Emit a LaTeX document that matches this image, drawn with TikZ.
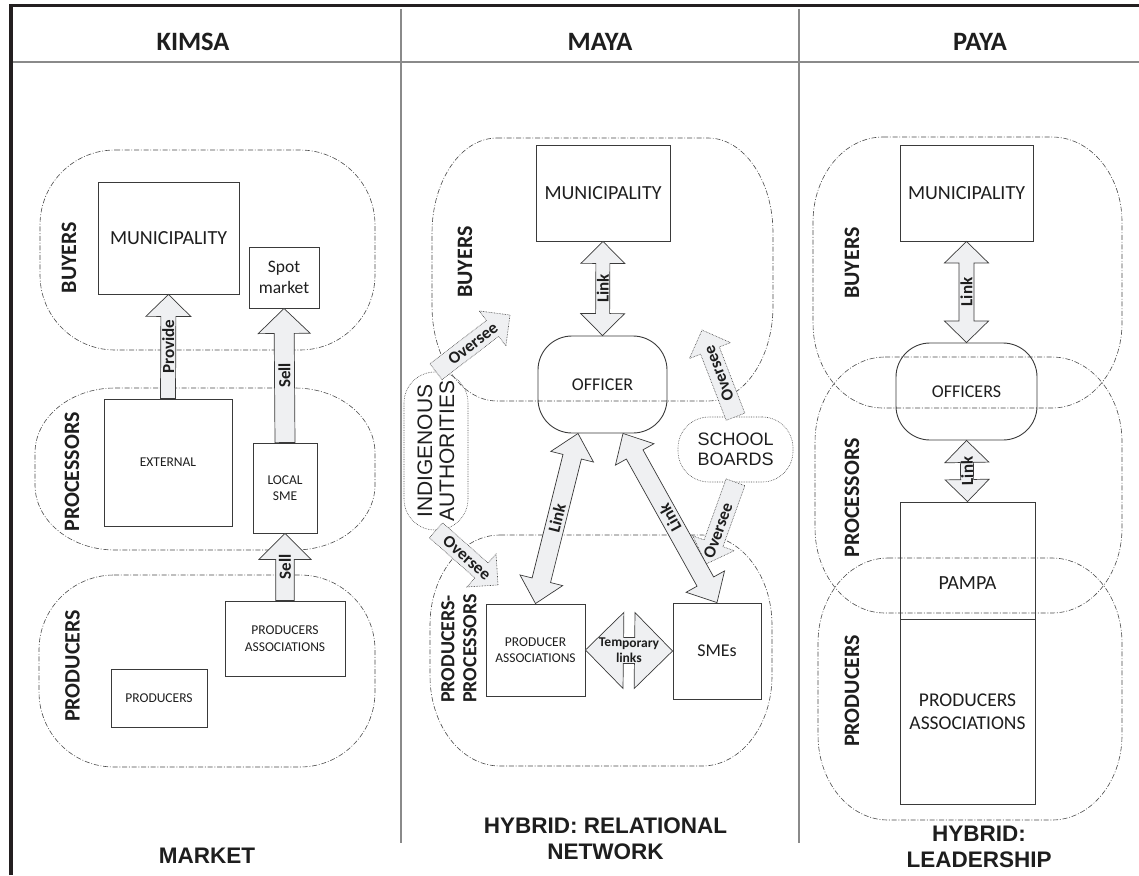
\documentclass[tikz,border=0pt]{standalone}
\usepackage{fontspec}
\setmainfont{Carlito}
\newfontfamily\arialf{Liberation Sans}
\usetikzlibrary{calc}
\definecolor{ink}{HTML}{1E1E1E}
\definecolor{boxc}{HTML}{3A3A3A}
\definecolor{blobc}{HTML}{4A4A4A}
\definecolor{afill}{HTML}{EFF0F2}
\definecolor{sepc}{HTML}{8A8A8A}
\definecolor{framec}{HTML}{231F20}
% single block arrow: [label opts]{style}{from}{to}{half shaft}{half head}{head length}{label}
\newcommand{\sarrow}[8][]{%
  \draw[#2] let \p1=(#3), \p2=(#4), \n1={atan2(\y2-\y1,\x2-\x1)}, \n2={veclen(\x2-\x1,\y2-\y1)} in
  {[shift={(\p1)}, rotate=\n1]
   (0,#5) -- ({\n2-#7},#5) -- ({\n2-#7},#6) -- (\n2,0) -- ({\n2-#7},-#6) -- ({\n2-#7},-#5) -- (0,-#5) -- cycle
   ({\n2/2},0) node[lbl, transform shape, #1] {#8}};
}
% double block arrow
\newcommand{\darrow}[8][]{%
  \draw[#2] let \p1=(#3), \p2=(#4), \n1={atan2(\y2-\y1,\x2-\x1)}, \n2={veclen(\x2-\x1,\y2-\y1)} in
  {[shift={(\p1)}, rotate=\n1]
   (0,0) -- (#7,#6) -- (#7,#5) -- ({\n2-#7},#5) -- ({\n2-#7},#6) -- (\n2,0) -- ({\n2-#7},-#6) -- ({\n2-#7},-#5) -- (#7,-#5) -- (#7,-#6) -- cycle
   ({\n2/2},0) node[lbl, transform shape, #1] {#8}};
}
% blob region: x1 y1 x2 y2 rx ry
\newcommand{\blobreg}[6]{%
  \draw[blob] ({#1+#5},#2) -- ({#3-#5},#2) arc[start angle=270,end angle=360,x radius=#5,y radius=#6]
   -- (#3,{#4-#6}) arc[start angle=0,end angle=90,x radius=#5,y radius=#6]
   -- ({#1+#5},#4) arc[start angle=90,end angle=180,x radius=#5,y radius=#6]
   -- (#1,{#2+#6}) arc[start angle=180,end angle=270,x radius=#5,y radius=#6] -- cycle;
}
\tikzset{
  box/.style={draw=boxc, line width=0.9pt, inner sep=0pt, align=center, text=ink},
  boxs/.style={box, font=\fontsize{13.5}{16.5}\selectfont},
  boxl/.style={box, font=\fontsize{20}{22}\selectfont},
  offc/.style={box, rounded corners=34pt, font=\fontsize{18}{20}\selectfont},
  blob/.style={draw=blobc, line width=0.6pt, dash pattern=on 5pt off 1.8pt on 0.9pt off 1.8pt},
  cloud/.style={draw=blobc, line width=0.6pt, dash pattern=on 0.7pt off 1pt, inner sep=0pt, align=center, text=ink, rounded corners=31pt},
  rowlbl/.style={rotate=90, font=\bfseries\fontsize{22}{22}\selectfont, text=ink, inner sep=0pt},
  headlbl/.style={font=\bfseries\fontsize{26.5}{28}\selectfont, text=ink, inner sep=0pt, anchor=base},
  foot/.style={font=\arialf\bfseries\fontsize{22.5}{26}\selectfont, align=center, text=ink, inner sep=0pt, anchor=base},
  barrow/.style={draw=boxc, fill=afill, line width=0.7pt, line join=miter},
  oarrow/.style={draw=blobc, fill=afill, line width=0.6pt, dash pattern=on 0.7pt off 0.9pt, line join=miter},
  lbl/.style={font=\bfseries\fontsize{17}{17}\selectfont, text=ink, inner sep=0pt, align=center},
}
\begin{document}
\begin{tikzpicture}[x=1pt,y=-1pt]
\useasboundingbox (0,0) rectangle (1139,875);
% frame
\draw[framec, line width=3.2pt, line join=miter] (11,875) -- (11,5.5) -- (1139,5.5);
\draw[sepc, line width=1.2pt] (13,62) -- (1139,62);
\draw[sepc, line width=1.5pt] (401,9) -- (401,843);
\draw[sepc, line width=1.5pt] (799,9) -- (799,843);
% headers
\node[headlbl] (hk) at (193,51) {KIMSA};
\node[headlbl] (hm) at (600,51) {MAYA};
\node[headlbl] (hp) at (980,51) {PAYA};
% footers (base = baseline of last line)
\node[foot] (fk) at (207,863) {MARKET};
\node[foot] (fm) at (605.5,859) {HYBRID: RELATIONAL\\NETWORK};
\node[foot] (fp) at (979,867) {HYBRID:\\LEADERSHIP};
% blobs
\blobreg{40}{150}{375}{350}{75}{75}
\blobreg{35}{388}{375}{550}{80}{65}
\blobreg{39}{575}{375}{767}{75}{75}
\blobreg{432}{138}{773}{401}{65}{95}
\blobreg{430}{535}{772}{766}{70}{90}
\blobreg{813}{137}{1122}{408}{70}{85}
\blobreg{815}{357}{1122}{613}{70}{85}
\blobreg{818}{558}{1122}{820}{70}{85}
% row labels
\node[rowlbl] (kb) at (69,257.5) {BUYERS};
\node[rowlbl] (kpr) at (72,472) {PROCESSORS};
\node[rowlbl] (kpd) at (72.5,666) {PRODUCERS};
\node[rowlbl] (mb) at (465,262) {BUYERS};
\node[rowlbl, font=\bfseries\fontsize{20}{22}\selectfont, align=left, anchor=west] (mpp) at (459,703) {PRODUCERS-\\PROCESSORS};
\node[rowlbl] (pb) at (852,263) {BUYERS};
\node[rowlbl] (ppr) at (852,498) {PROCESSORS};
\node[rowlbl] (ppd) at (852,691) {PRODUCERS};
% KIMSA boxes
\node[boxl, minimum width=141pt, minimum height=112pt] (kmuni) at (168.5,238) {MUNICIPALITY};
\node[box, font=\fontsize{17.5}{21}\selectfont, minimum width=70pt, minimum height=61pt] (kspot) at (284,277.5) {Spot\\market};
\node[boxs, minimum width=128pt, minimum height=127pt] (kext) at (168,462.5) {EXTERNAL};
\node[boxs, minimum width=64pt, minimum height=90pt] (ksme) at (285,488) {LOCAL\\SME};
\node[boxs, minimum width=120pt, minimum height=75pt] (kpa) at (285,638.5) {PRODUCERS\\ASSOCIATIONS};
\node[boxs, minimum width=96pt, minimum height=58pt] (kprod) at (159,698) {PRODUCERS};
% MAYA boxes
\node[boxl, minimum width=134pt, minimum height=96pt] (mmuni) at (603,193) {MUNICIPALITY};
\node[offc, minimum width=129pt, minimum height=97pt] (moff) at (602.5,384.5) {OFFICER};
\node[cloud, rotate=90, minimum width=158pt, minimum height=64pt, font=\arialf\fontsize{21}{22}\selectfont] (mind) at (436,451) {INDIGENOUS\\AUTHORITIES};
\node[cloud, minimum width=115pt, minimum height=65pt, font=\arialf\fontsize{18}{19.5}\selectfont] (msb) at (735.5,449.5) {SCHOOL\\BOARDS};
\node[boxs, font=\fontsize{13.5}{16}\selectfont, minimum width=99pt, minimum height=92pt] (mpa) at (535.5,650) {PRODUCER\\ASSOCIATIONS};
\node[box, font=\fontsize{18}{20}\selectfont, minimum width=88pt, minimum height=96pt] (msme) at (717,651) {SMEs};
% PAYA boxes
\node[boxl, minimum width=133pt, minimum height=96pt] (pmuni) at (966.5,193) {MUNICIPALITY};
\node[offc, minimum width=141pt, minimum height=97pt] (poff) at (966.5,391.5) {OFFICERS};
\node[box, minimum width=135pt, minimum height=117pt] (ppampa) at (967.5,560.5) {};
\node[font=\fontsize{20}{22}\selectfont, text=ink, inner sep=0pt] (pampatxt) at ($(ppampa.center)+(0,22.5)$) {PAMPA};
\node[box, font=\fontsize{19.5}{23}\selectfont, minimum width=135pt, minimum height=185pt] (ppa) at (967.5,711.5) {PRODUCERS\\ASSOCIATIONS};
% KIMSA arrows
\sarrow{barrow}{kext.north}{kmuni.south}{7.5}{22.5}{22}{Provide}
\sarrow{barrow}{ksme.north}{kspot.south}{10}{26}{25}{Sell}
\sarrow{barrow}{kpa.north}{ksme.south}{9.3}{26}{26}{Sell}
% MAYA arrows
\coordinate (ovA) at (510,315);
\coordinate (ovB) at (498,585);
\coordinate (ovC) at (702,330);
\coordinate (ovD) at (706,564);
\sarrow{oarrow}{mind.east}{ovA}{10}{22}{22}{Oversee}
\sarrow{oarrow}{mind.west}{ovB}{10}{22}{22}{Oversee}
\sarrow{oarrow}{msb.north}{ovC}{10}{22}{22}{Oversee}
\sarrow[rotate=180, xshift=-8pt]{oarrow}{msb.south}{ovD}{10}{22}{22}{Oversee}
\darrow{barrow}{moff.north}{mmuni.south}{7}{22}{22}{Link}
\darrow{barrow}{mpa.north}{$(moff.south)+(-24.5,0)$}{9.5}{22}{24}{Link}
\darrow{barrow}{msme.north}{$(moff.south)+(20.5,0)$}{9.5}{22}{24}{Link}
\darrow[font=\bfseries\fontsize{13.5}{15.5}\selectfont]{barrow}{mpa.east}{msme.west}{13}{38}{38}{Temporary\\links}
% PAYA arrows
\darrow{barrow}{poff.north}{pmuni.south}{7.5}{22}{21.5}{Link}
\darrow{barrow}{ppampa.north}{poff.south}{6.5}{22}{22}{Link}
\end{tikzpicture}
\end{document}
